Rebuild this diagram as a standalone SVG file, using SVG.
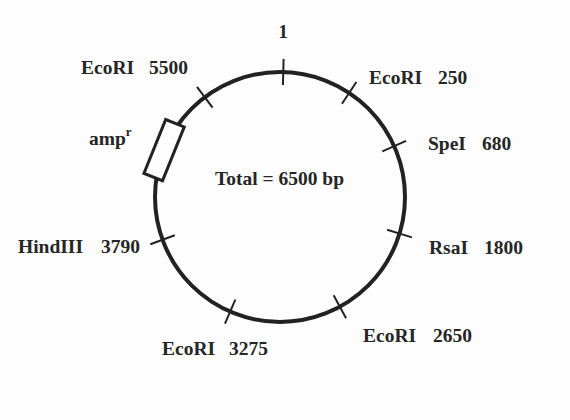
<svg xmlns="http://www.w3.org/2000/svg" width="570" height="420" viewBox="0 0 570 420">
<style>
.lbl{font-family:"Liberation Serif","Times New Roman",serif;font-weight:bold;font-size:19.5px;fill:#262626}
.tick{stroke:#222;stroke-width:2}
</style>
<defs>
<line id="tk" class="tick" x1="280" y1="59" x2="280" y2="85"/>
</defs>
<rect width="570" height="420" fill="#fdfdfd"/>
<g id="connectors">
<circle cx="280" cy="197" r="125" fill="none" stroke="#222" stroke-width="4"/>
</g>
<g id="ticks">
<use href="#tk" transform="rotate(1.5 280 197)"/>
<use href="#tk" transform="rotate(33.6 280 197)"/>
<use href="#tk" transform="rotate(66 280 197)"/>
<use href="#tk" transform="rotate(107 280 197)"/>
<use href="#tk" transform="rotate(151.4 280 197)"/>
<use href="#tk" transform="rotate(203.5 280 197)"/>
<use href="#tk" transform="rotate(250 280 197)"/>
<use href="#tk" transform="rotate(323 280 197)"/>
</g>
<g id="ampr">
<rect x="251" y="62" width="58" height="20" fill="#fdfdfd" stroke="#222" stroke-width="3" transform="rotate(292 280 197)"/>
<text class="lbl" x="89" y="145">amp<tspan font-size="13" dy="-9">r</tspan></text>
</g>
<g id="n1"><text class="lbl" x="283" y="38" text-anchor="middle">1</text></g>
<g id="ecori5500"><text class="lbl" x="81" y="74">EcoRI<tspan x="149">5500</tspan></text></g>
<g id="ecori250"><text class="lbl" x="369" y="84">EcoRI<tspan x="438">250</tspan></text></g>
<g id="spei680"><text class="lbl" x="428" y="150">SpeI<tspan x="482">680</tspan></text></g>
<g id="rsai1800"><text class="lbl" x="429" y="254">RsaI<tspan x="484">1800</tspan></text></g>
<g id="ecori2650"><text class="lbl" x="363" y="342">EcoRI<tspan x="433">2650</tspan></text></g>
<g id="ecori3275"><text class="lbl" x="162" y="355">EcoRI<tspan x="229">3275</tspan></text></g>
<g id="hindiii3790"><text class="lbl" x="18" y="253">HindIII<tspan x="101">3790</tspan></text></g>
<g id="total"><text class="lbl" x="215" y="185">Total = 6500 bp</text></g>
</svg>
